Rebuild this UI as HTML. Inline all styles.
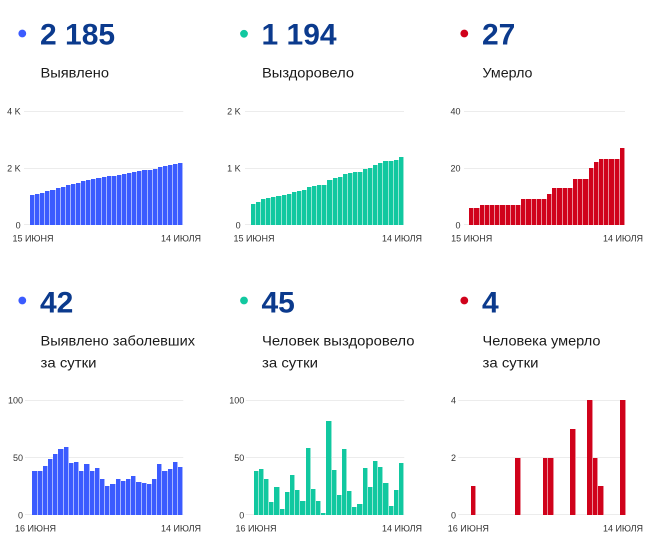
<!DOCTYPE html>
<html><head><meta charset="utf-8">
<style>
html,body{margin:0;padding:0;background:#fff;}
body{width:662px;height:557px;position:relative;overflow:hidden;font-family:"Liberation Sans","DejaVu Sans",sans-serif;}
svg{position:absolute;left:0;top:0;}
.bars{position:absolute;display:flex;align-items:flex-end;}
.bars i{flex:1 1 0;display:block;height:calc(var(--v) * var(--s));background:var(--c);box-sizing:border-box;border-right:1px solid rgba(255,255,255,.55);}
.b{--c:#3b5bff;} .g{--c:#11c8a0;} .r{--c:#d0021b;}
.num{font-weight:bold;font-size:30px;fill:#0b3a8d;}
.sub{font-size:14px;fill:#1a1a1a;}
.ax{font-size:9px;fill:#333;}
.gl{stroke:#ececec;stroke-width:1;}
</style></head><body>
<svg width="662" height="557" viewBox="0 0 662 557">
  <!-- headers -->
  <circle cx="22.3" cy="33.5" r="3.9" fill="#3b5bff"/>
  <circle cx="244" cy="33.8" r="3.9" fill="#11c8a0"/>
  <circle cx="464.3" cy="33.5" r="3.9" fill="#d0021b"/>
  <text class="num" x="40" y="44.3">2 185</text>
  <text class="num" x="261.5" y="44.3">1 194</text>
  <text class="num" x="482" y="44.3">27</text>
  <text class="sub" x="40.5" y="77.5" textLength="68.5" lengthAdjust="spacingAndGlyphs">Выявлено</text>
  <text class="sub" x="262" y="77.5" textLength="92" lengthAdjust="spacingAndGlyphs">Выздоровело</text>
  <text class="sub" x="482.5" y="77.5" textLength="50" lengthAdjust="spacingAndGlyphs">Умерло</text>

  <circle cx="22.3" cy="300.5" r="3.9" fill="#3b5bff"/>
  <circle cx="244" cy="300.5" r="3.9" fill="#11c8a0"/>
  <circle cx="464.3" cy="300.5" r="3.9" fill="#d0021b"/>
  <text class="num" x="40" y="312.3">42</text>
  <text class="num" x="261.5" y="312.3">45</text>
  <text class="num" x="482" y="312.3">4</text>
  <text class="sub" x="40.5" y="345.7" textLength="154.5" lengthAdjust="spacingAndGlyphs">Выявлено заболевших</text>
  <text class="sub" x="40.5" y="367.3" textLength="56" lengthAdjust="spacingAndGlyphs">за сутки</text>
  <text class="sub" x="262" y="345.7" textLength="152.5" lengthAdjust="spacingAndGlyphs">Человек выздоровело</text>
  <text class="sub" x="262" y="367.3" textLength="56" lengthAdjust="spacingAndGlyphs">за сутки</text>
  <text class="sub" x="482.5" y="345.7" textLength="118" lengthAdjust="spacingAndGlyphs">Человека умерло</text>
  <text class="sub" x="482.5" y="367.3" textLength="56" lengthAdjust="spacingAndGlyphs">за сутки</text>

  <!-- gridlines top -->
  <line class="gl" x1="24" x2="183.3" y1="111.5" y2="111.5"/>
  <line class="gl" x1="24" x2="183.3" y1="168.5" y2="168.5"/>
  <line class="gl" x1="24" x2="183.3" y1="224.5" y2="224.5"/>
  <line class="gl" x1="245" x2="404" y1="111.5" y2="111.5"/>
  <line class="gl" x1="245" x2="404" y1="168.5" y2="168.5"/>
  <line class="gl" x1="245" x2="404" y1="224.5" y2="224.5"/>
  <line class="gl" x1="464" x2="625" y1="111.5" y2="111.5"/>
  <line class="gl" x1="464" x2="625" y1="168.5" y2="168.5"/>
  <line class="gl" x1="464" x2="625" y1="224.5" y2="224.5"/>
  <!-- gridlines bottom -->
  <line class="gl" x1="25" x2="183.3" y1="400.5" y2="400.5"/>
  <line class="gl" x1="25" x2="183.3" y1="457.5" y2="457.5"/>
  <line class="gl" x1="25" x2="183.3" y1="514.5" y2="514.5"/>
  <line class="gl" x1="245.7" x2="404.3" y1="400.5" y2="400.5"/>
  <line class="gl" x1="245.7" x2="404.3" y1="457.5" y2="457.5"/>
  <line class="gl" x1="245.7" x2="404.3" y1="514.5" y2="514.5"/>
  <line class="gl" x1="458.3" x2="625.7" y1="400.5" y2="400.5"/>
  <line class="gl" x1="458.3" x2="625.7" y1="457.5" y2="457.5"/>
  <line class="gl" x1="458.3" x2="625.7" y1="514.5" y2="514.5"/>

  <!-- y labels top -->
  <text class="ax" x="20.7" y="114.3" text-anchor="end">4 K</text>
  <text class="ax" x="20.7" y="171.3" text-anchor="end">2 K</text>
  <text class="ax" x="20.7" y="228.3" text-anchor="end">0</text>
  <text class="ax" x="240.7" y="114.3" text-anchor="end">2 K</text>
  <text class="ax" x="240.7" y="171.3" text-anchor="end">1 K</text>
  <text class="ax" x="240.7" y="228.3" text-anchor="end">0</text>
  <text class="ax" x="460.5" y="114.3" text-anchor="end">40</text>
  <text class="ax" x="460.5" y="171.3" text-anchor="end">20</text>
  <text class="ax" x="460.5" y="228.3" text-anchor="end">0</text>
  <!-- y labels bottom -->
  <text class="ax" x="23" y="403.3" text-anchor="end">100</text>
  <text class="ax" x="23" y="460.8" text-anchor="end">50</text>
  <text class="ax" x="23" y="518.3" text-anchor="end">0</text>
  <text class="ax" x="244.3" y="403.3" text-anchor="end">100</text>
  <text class="ax" x="244.3" y="460.8" text-anchor="end">50</text>
  <text class="ax" x="244.3" y="518.3" text-anchor="end">0</text>
  <text class="ax" x="456" y="403.3" text-anchor="end">4</text>
  <text class="ax" x="456" y="460.8" text-anchor="end">2</text>
  <text class="ax" x="456" y="518.3" text-anchor="end">0</text>

  <!-- x labels -->
  <text class="ax" x="33" y="241.5" text-anchor="middle">15 ИЮНЯ</text>
  <text class="ax" x="181" y="241.5" text-anchor="middle">14 ИЮЛЯ</text>
  <text class="ax" x="254" y="241.5" text-anchor="middle">15 ИЮНЯ</text>
  <text class="ax" x="402" y="241.5" text-anchor="middle">14 ИЮЛЯ</text>
  <text class="ax" x="471.7" y="241.5" text-anchor="middle">15 ИЮНЯ</text>
  <text class="ax" x="623" y="241.5" text-anchor="middle">14 ИЮЛЯ</text>
  <text class="ax" x="35.5" y="531.6" text-anchor="middle">16 ИЮНЯ</text>
  <text class="ax" x="181" y="531.6" text-anchor="middle">14 ИЮЛЯ</text>
  <text class="ax" x="256" y="531.6" text-anchor="middle">16 ИЮНЯ</text>
  <text class="ax" x="402" y="531.6" text-anchor="middle">14 ИЮЛЯ</text>
  <text class="ax" x="468.3" y="531.6" text-anchor="middle">16 ИЮНЯ</text>
  <text class="ax" x="623" y="531.6" text-anchor="middle">14 ИЮЛЯ</text>
</svg>

<!-- Top-left: cumulative detected -->
<div class="bars b" style="left:30px;top:111px;width:153.3px;height:114px;--s:0.0285px;">
<i style="--v:1062"></i><i style="--v:1100"></i><i style="--v:1138"></i><i style="--v:1181"></i><i style="--v:1230"></i><i style="--v:1283"></i><i style="--v:1340"></i><i style="--v:1399"></i><i style="--v:1444"></i><i style="--v:1490"></i><i style="--v:1528"></i><i style="--v:1572"></i><i style="--v:1610"></i><i style="--v:1651"></i><i style="--v:1682"></i><i style="--v:1707"></i><i style="--v:1734"></i><i style="--v:1765"></i><i style="--v:1795"></i><i style="--v:1826"></i><i style="--v:1860"></i><i style="--v:1889"></i><i style="--v:1917"></i><i style="--v:1944"></i><i style="--v:1975"></i><i style="--v:2019"></i><i style="--v:2057"></i><i style="--v:2097"></i><i style="--v:2143"></i><i style="--v:2185"></i>
</div>

<!-- Top-middle: cumulative recovered -->
<div class="bars g" style="left:251px;top:111px;width:153px;height:114px;--s:0.057px;">
<i style="--v:371"></i><i style="--v:409"></i><i style="--v:449"></i><i style="--v:480"></i><i style="--v:491"></i><i style="--v:515"></i><i style="--v:520"></i><i style="--v:540"></i><i style="--v:575"></i><i style="--v:597"></i><i style="--v:609"></i><i style="--v:667"></i><i style="--v:690"></i><i style="--v:702"></i><i style="--v:704"></i><i style="--v:786"></i><i style="--v:825"></i><i style="--v:842"></i><i style="--v:899"></i><i style="--v:920"></i><i style="--v:927"></i><i style="--v:937"></i><i style="--v:978"></i><i style="--v:1002"></i><i style="--v:1049"></i><i style="--v:1091"></i><i style="--v:1119"></i><i style="--v:1127"></i><i style="--v:1149"></i><i style="--v:1194"></i>
</div>

<!-- Top-right: cumulative deaths -->
<div class="bars r" style="left:469.3px;top:111px;width:155.7px;height:114px;--s:2.85px;">
<i style="--v:6"></i><i style="--v:6"></i><i style="--v:7"></i><i style="--v:7"></i><i style="--v:7"></i><i style="--v:7"></i><i style="--v:7"></i><i style="--v:7"></i><i style="--v:7"></i><i style="--v:7"></i><i style="--v:9"></i><i style="--v:9"></i><i style="--v:9"></i><i style="--v:9"></i><i style="--v:9"></i><i style="--v:11"></i><i style="--v:13"></i><i style="--v:13"></i><i style="--v:13"></i><i style="--v:13"></i><i style="--v:16"></i><i style="--v:16"></i><i style="--v:16"></i><i style="--v:20"></i><i style="--v:22"></i><i style="--v:23"></i><i style="--v:23"></i><i style="--v:23"></i><i style="--v:23"></i><i style="--v:27"></i>
</div>

<!-- Bottom-left: daily detected -->
<div class="bars b" style="left:32.3px;top:400px;width:151px;height:115px;--s:1.15px;">
<i style="--v:38"></i><i style="--v:38"></i><i style="--v:43"></i><i style="--v:49"></i><i style="--v:53"></i><i style="--v:57"></i><i style="--v:59"></i><i style="--v:45"></i><i style="--v:46"></i><i style="--v:38"></i><i style="--v:44"></i><i style="--v:38"></i><i style="--v:41"></i><i style="--v:31"></i><i style="--v:25"></i><i style="--v:27"></i><i style="--v:31"></i><i style="--v:30"></i><i style="--v:31"></i><i style="--v:34"></i><i style="--v:29"></i><i style="--v:28"></i><i style="--v:27"></i><i style="--v:31"></i><i style="--v:44"></i><i style="--v:38"></i><i style="--v:40"></i><i style="--v:46"></i><i style="--v:42"></i>
</div>

<!-- Bottom-middle: daily recovered -->
<div class="bars g" style="left:253.7px;top:400px;width:150.6px;height:115px;--s:1.15px;">
<i style="--v:38"></i><i style="--v:40"></i><i style="--v:31"></i><i style="--v:11"></i><i style="--v:24"></i><i style="--v:5"></i><i style="--v:20"></i><i style="--v:35"></i><i style="--v:22"></i><i style="--v:12"></i><i style="--v:58"></i><i style="--v:23"></i><i style="--v:12"></i><i style="--v:2"></i><i style="--v:82"></i><i style="--v:39"></i><i style="--v:17"></i><i style="--v:57"></i><i style="--v:21"></i><i style="--v:7"></i><i style="--v:10"></i><i style="--v:41"></i><i style="--v:24"></i><i style="--v:47"></i><i style="--v:42"></i><i style="--v:28"></i><i style="--v:8"></i><i style="--v:22"></i><i style="--v:45"></i>
</div>

<!-- Bottom-right: daily deaths -->
<div class="bars r" style="left:465.3px;top:400px;width:160.4px;height:115px;--s:28.75px;">
<i style="--v:0"></i><i style="--v:1"></i><i style="--v:0"></i><i style="--v:0"></i><i style="--v:0"></i><i style="--v:0"></i><i style="--v:0"></i><i style="--v:0"></i><i style="--v:0"></i><i style="--v:2"></i><i style="--v:0"></i><i style="--v:0"></i><i style="--v:0"></i><i style="--v:0"></i><i style="--v:2"></i><i style="--v:2"></i><i style="--v:0"></i><i style="--v:0"></i><i style="--v:0"></i><i style="--v:3"></i><i style="--v:0"></i><i style="--v:0"></i><i style="--v:4"></i><i style="--v:2"></i><i style="--v:1"></i><i style="--v:0"></i><i style="--v:0"></i><i style="--v:0"></i><i style="--v:4"></i>
</div>
</body></html>
